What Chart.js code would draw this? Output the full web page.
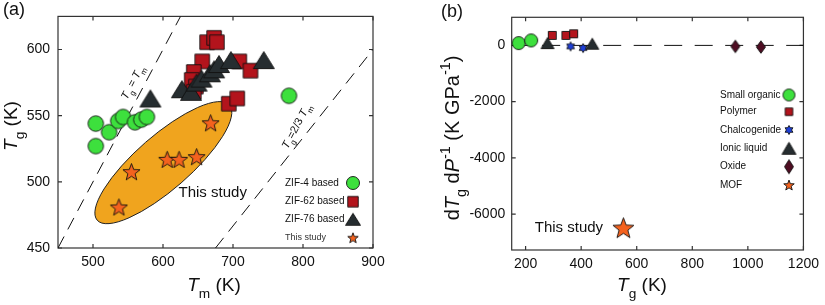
<!DOCTYPE html>
<html>
<head>
<meta charset="utf-8">
<script src="https://cdn.jsdelivr.net/npm/chart.js@4.4.1/dist/chart.umd.min.js"></script>
<style>
  body { margin: 0; background: #fff; }
  #wrap { position: relative; width: 825px; height: 305px; }
  canvas { position: absolute; top: 0; }
</style>
</head>
<body>
<div id="wrap">
  <canvas id="tmChart" width="415" height="305" style="left:0"></canvas>
  <canvas id="dpChart" width="410" height="305" style="left:415px"></canvas>
</div>
<script>
// ---- panel (a): Tg vs Tm ----
const zif4Tm = [504, 504, 523, 536, 543, 560, 569, 577, 780];
const zif4Tg = [544, 527, 537.5, 546, 549, 545, 547, 549, 565];
const zif62Tm = [663, 673, 677, 656, 644, 641, 647, 644, 709, 725, 694, 706];
const zif62Tg = [605.5, 608.8, 605.5, 591, 583, 577, 572, 568, 591, 584, 559, 563];
const zif76Tm = [582, 627, 640, 648, 655, 667, 673, 680, 697, 744];
const zif76Tg = [563, 570, 568, 575, 578, 582, 585, 589, 592, 592];
const studyTm = [537, 555, 606, 623, 648, 668];
const studyTg = [481, 507.7, 517, 517, 519, 544.6];
const eqLineTm = [450, 625];    // Tg = Tm
const eqLineTg = [450, 625];
const twoThirdTm = [675, 900];  // Tg = 2/3 Tm
const twoThirdTg = [450, 600];
const tmTicks = [500, 600, 700, 800, 900];
const tgTicksA = [450, 500, 550, 600];
const legendA = ['ZIF-4 based', 'ZIF-62 based', 'ZIF-76 based', 'This study'];

// ---- panel (b): dTg/dP vs Tg ----
const orgTg = [175, 220];       const orgDp = [83, 177];
const polyTg = [296, 345, 373]; const polyDp = [355, 355, 414];
const chalTg = [362, 407];      const chalDp = [-35, -95];
const ionTg = [279, 440];       const ionDp = [83, 59];
const oxTg = [955, 1047];       const oxDp = [-35, -59];
const mofTg = [552];            const mofDp = [-6485];
const zeroTg = [150, 1200];     const zeroDp = [0, 0];
const tgTicksB = [200, 400, 600, 800, 1000, 1200];
const dpTicks = [-6000, -4000, -2000, 0];
const legendB = ['Small organic', 'Polymer', 'Chalcogenide', 'Ionic liquid', 'Oxide', 'MOF'];

const FAM = "'Liberation Sans', Arial, Helvetica, sans-serif";
const GREEN = '#3de03d', RED = '#b3141c', SLATE = '#262d30', ORANGE = '#f4621e',
      BLUE = '#1e3fd8', MAROON = '#4e0d22', GOLD = '#f0a41e';

const pts = (xs, ys) => xs.map((x, i) => ({ x: x, y: ys[i] }));

// marker images
function marker(shape, w, h, fill) {
  const c = document.createElement('canvas');
  c.width = Math.ceil(w) + 3; c.height = Math.ceil(h) + 3;
  const g = c.getContext('2d');
  const cx = c.width / 2, cy = c.height / 2;
  g.beginPath();
  if (shape === 'circle') {
    g.arc(cx, cy, w / 2, 0, Math.PI * 2);
  } else if (shape === 'square') {
    g.rect(cx - w / 2, cy - h / 2, w, h);
  } else if (shape === 'triangle') {
    g.moveTo(cx, cy - h / 2); g.lineTo(cx + w / 2, cy + h / 2); g.lineTo(cx - w / 2, cy + h / 2);
  } else if (shape === 'diamond') {
    g.moveTo(cx, cy - h / 2); g.lineTo(cx + w / 2, cy); g.lineTo(cx, cy + h / 2); g.lineTo(cx - w / 2, cy);
  } else if (shape === 'star' || shape === 'hex') {
    const n = shape === 'star' ? 5 : 6;
    const ro = h / 2, ri = shape === 'star' ? ro * 0.42 : ro * 0.58;
    for (let k = 0; k < n * 2; k++) {
      const r = k % 2 ? ri : ro;
      const a = -Math.PI / 2 + k * Math.PI / n;
      const px = cx + r * Math.cos(a), py = cy + r * Math.sin(a) + (shape === 'star' ? ro * 0.1 : 0);
      k ? g.lineTo(px, py) : g.moveTo(px, py);
    }
  }
  g.closePath();
  g.fillStyle = fill; g.fill();
  g.lineWidth = 0.9; g.strokeStyle = '#111'; g.stroke();
  return c;
}

// axis titles / annotations with italics and sub/superscripts
function rich(ctx, segs, x, y, size, rot, color) {
  ctx.save();
  ctx.translate(x, y);
  ctx.rotate((rot || 0) * Math.PI / 180);
  let w = 0;
  const parts = segs.map(s => {
    const fs = (s.sub || s.sup) ? size * 0.72 : size;
    const font = (s.i ? 'italic ' : '') + fs + 'px ' + FAM;
    ctx.font = font;
    const mw = ctx.measureText(s.t).width;
    w += mw;
    return { s: s, font: font, mw: mw };
  });
  let cx = -w / 2;
  ctx.textBaseline = 'middle';
  ctx.fillStyle = color || '#111';
  parts.forEach(p => {
    ctx.font = p.font;
    const dy = p.s.sub ? size * 0.45 : p.s.sup ? -size * 0.35 : 0;
    ctx.fillText(p.s.t, cx, dy);
    cx += p.mw;
  });
  ctx.restore();
}

// frame with inward ticks on all four sides
const frame = {
  id: 'frame',
  beforeDatasetsDraw(chart) {
    const { ctx, chartArea: a, scales } = chart;
    ctx.save();
    ctx.strokeStyle = '#333';
    ctx.lineWidth = 1.2;
    ctx.strokeRect(a.left, a.top, a.right - a.left, a.bottom - a.top);
    ctx.beginPath();
    scales.x.ticks.forEach(t => {
      const px = scales.x.getPixelForValue(t.value);
      ctx.moveTo(px, a.bottom); ctx.lineTo(px, a.bottom - 4);
      ctx.moveTo(px, a.top); ctx.lineTo(px, a.top + 4);
    });
    scales.y.ticks.forEach(t => {
      const py = scales.y.getPixelForValue(t.value);
      ctx.moveTo(a.left, py); ctx.lineTo(a.left + 4, py);
      ctx.moveTo(a.right, py); ctx.lineTo(a.right - 4, py);
    });
    ctx.stroke();
    ctx.restore();
  }
};

const tickFont = { family: FAM, size: 14 };
function axis(min, max, tickVals, size, pad, isX) {
  return {
    type: 'linear', min: min, max: max,
    grid: { display: false, drawTicks: false },
    border: { display: false },
    ticks: { color: '#111', font: tickFont, padding: pad, maxRotation: 0, callback: v => String(v) },
    afterBuildTicks: s => { s.ticks = tickVals.map(v => ({ value: v })); },
    afterFit: s => { if (isX) s.height = size; else s.width = size; }
  };
}

// ---------- chart (a) ----------
const mkA = {
  circle: marker('circle', 15.5, 15.5, GREEN),
  square: marker('square', 14.5, 14.5, RED),
  tri: marker('triangle', 21, 17, SLATE),
  star: marker('star', 18, 18, ORANGE)
};
const legA = [
  marker('circle', 13, 13, GREEN), marker('square', 10.5, 10.5, RED),
  marker('triangle', 15, 12, SLATE), marker('star', 11, 11, ORANGE)
];

const decorA = {
  id: 'decorA',
  beforeDatasetsDraw(chart) {
    const { ctx, scales: { x, y } } = chart;
    // shaded ellipse around this study's points
    const x1 = x.getPixelForValue(506), y1 = y.getPixelForValue(471);
    const x2 = x.getPixelForValue(695), y2 = y.getPixelForValue(558);
    const cx = (x1 + x2) / 2, cy = (y1 + y2) / 2;
    const ra = Math.hypot(x2 - x1, y2 - y1) / 2;
    ctx.save();
    ctx.beginPath();
    ctx.ellipse(cx, cy, ra, 27, Math.atan2(y2 - y1, x2 - x1), 0, Math.PI * 2);
    ctx.fillStyle = GOLD; ctx.fill();
    ctx.lineWidth = 1; ctx.strokeStyle = '#222'; ctx.stroke();
    ctx.restore();
  },
  afterDraw(chart) {
    const { ctx, scales: { x, y } } = chart;
    rich(ctx, [{ t: 'T', i: true }, { t: 'g', sub: true }, { t: ' = ' }, { t: 'T', i: true }, { t: 'm', sub: true }],
      x.getPixelForValue(557), y.getPixelForValue(575), 11, -62);
    rich(ctx, [{ t: 'T', i: true }, { t: 'g', sub: true }, { t: '=2/3 ' }, { t: 'T', i: true }, { t: 'm', sub: true }],
      x.getPixelForValue(791), y.getPixelForValue(542), 11, -62);
    rich(ctx, [{ t: 'This study' }], x.getPixelForValue(671), y.getPixelForValue(491.5), 15, 0);
    // axis titles
    rich(ctx, [{ t: 'T', i: true }, { t: 'm', sub: true }, { t: ' (K)' }], 214, 286, 19, 0);
    rich(ctx, [{ t: 'T', i: true }, { t: 'g', sub: true }, { t: ' (K)' }], 12, 126, 19, -90);
    rich(ctx, [{ t: '(a)' }], 14, 10, 18, 0);
    // legend
    const rows = [183, 201.7, 219.3, 237.7];
    legendA.forEach((lab, i) => {
      ctx.save();
      ctx.font = (i === 3 ? 9 : 10) + 'px ' + FAM;
      ctx.fillStyle = i === 3 ? '#333' : '#111';
      ctx.textBaseline = 'middle';
      ctx.fillText(lab, 285, rows[i]);
      ctx.drawImage(legA[i], 353 - legA[i].width / 2, rows[i] - legA[i].height / 2);
      ctx.restore();
    });
  }
};

new Chart(document.getElementById('tmChart'), {
  type: 'scatter',
  data: {
    datasets: [
      { data: pts(studyTm, studyTg), pointStyle: mkA.star, order: 1 },
      { data: pts(zif76Tm, zif76Tg), pointStyle: mkA.tri, order: 2 },
      { data: pts(zif62Tm, zif62Tg), pointStyle: mkA.square, order: 3 },
      { data: pts(zif4Tm, zif4Tg), pointStyle: mkA.circle, order: 4 },
      { type: 'line', data: pts(eqLineTm, eqLineTg), borderColor: '#111', borderWidth: 1,
        borderDash: [13, 8], pointRadius: 0, order: 10 },
      { type: 'line', data: pts(twoThirdTm, twoThirdTg), borderColor: '#111', borderWidth: 1,
        borderDash: [13, 8], pointRadius: 0, order: 10 }
    ]
  },
  options: {
    responsive: false,
    animation: false,
    layout: { padding: { left: 10, right: 42, top: 16, bottom: 0 } },
    plugins: { legend: { display: false }, tooltip: { enabled: false } },
    scales: {
      x: axis(450, 900, tmTicks, 57, 6, true),
      y: axis(450, 625, tgTicksA, 48, 8, false)
    }
  },
  plugins: [frame, decorA]
});

// ---------- chart (b) ----------
const mkB = {
  circle: marker('circle', 13, 13, GREEN),
  square: marker('square', 8, 8, RED),
  hex: marker('hex', 9, 9, BLUE),
  tri: marker('triangle', 13, 11, SLATE),
  diamond: marker('diamond', 9, 12.5, MAROON),
  star: marker('star', 22, 22, ORANGE)
};
const legB = [
  marker('circle', 12, 12, GREEN), marker('square', 7.5, 7.5, RED), marker('hex', 9, 9, BLUE),
  marker('triangle', 14, 12, SLATE), marker('diamond', 9, 14, MAROON), marker('star', 11, 11, ORANGE)
];

const decorB = {
  id: 'decorB',
  afterDraw(chart) {
    const { ctx, scales: { x, y } } = chart;
    rich(ctx, [{ t: 'This study' }], x.getPixelForValue(356), y.getPixelForValue(-6490), 15, 0);
    rich(ctx, [{ t: 'T', i: true }, { t: 'g', sub: true }, { t: ' (K)' }], 227, 286, 19, 0);
    rich(ctx, [{ t: 'd' }, { t: 'T', i: true }, { t: 'g', sub: true }, { t: ' d' }, { t: 'P', i: true },
               { t: '-1', sup: true }, { t: ' (K GPa' }, { t: '-1', sup: true }, { t: ')' }], 38, 138, 20, -90);
    rich(ctx, [{ t: '(b)' }], 37, 12, 18, 0);
    const rows = [95, 111.7, 130, 148.3, 166.7, 185];
    legendB.forEach((lab, i) => {
      ctx.save();
      ctx.font = '10px ' + FAM;
      ctx.fillStyle = '#111';
      ctx.textBaseline = 'middle';
      ctx.fillText(lab, 305, rows[i]);
      ctx.drawImage(legB[i], 374 - legB[i].width / 2, rows[i] - legB[i].height / 2);
      ctx.restore();
    });
  }
};

new Chart(document.getElementById('dpChart'), {
  type: 'scatter',
  data: {
    datasets: [
      { data: pts(mofTg, mofDp), pointStyle: mkB.star, order: 1 },
      { data: pts(oxTg, oxDp), pointStyle: mkB.diamond, order: 2 },
      { data: pts(ionTg, ionDp), pointStyle: mkB.tri, order: 3 },
      { data: pts(chalTg, chalDp), pointStyle: mkB.hex, order: 4 },
      { data: pts(polyTg, polyDp), pointStyle: mkB.square, order: 5 },
      { data: pts(orgTg, orgDp), pointStyle: mkB.circle, order: 6 },
      { type: 'line', data: pts(zeroTg, zeroDp), borderColor: '#111', borderWidth: 1,
        borderDash: [18, 12.5], pointRadius: 0, order: 10 }
    ]
  },
  options: {
    responsive: false,
    animation: false,
    layout: { padding: { left: 0, right: 16.7, top: 17.3, bottom: 0 } },
    plugins: { legend: { display: false }, tooltip: { enabled: false } },
    scales: {
      x: axis(150, 1200, tgTicksB, 55, 6, true),
      y: axis(-7280, 1000, dpTicks, 96.7, 6.5, false)
    }
  },
  plugins: [frame, decorB]
});
</script>
</body>
</html>
